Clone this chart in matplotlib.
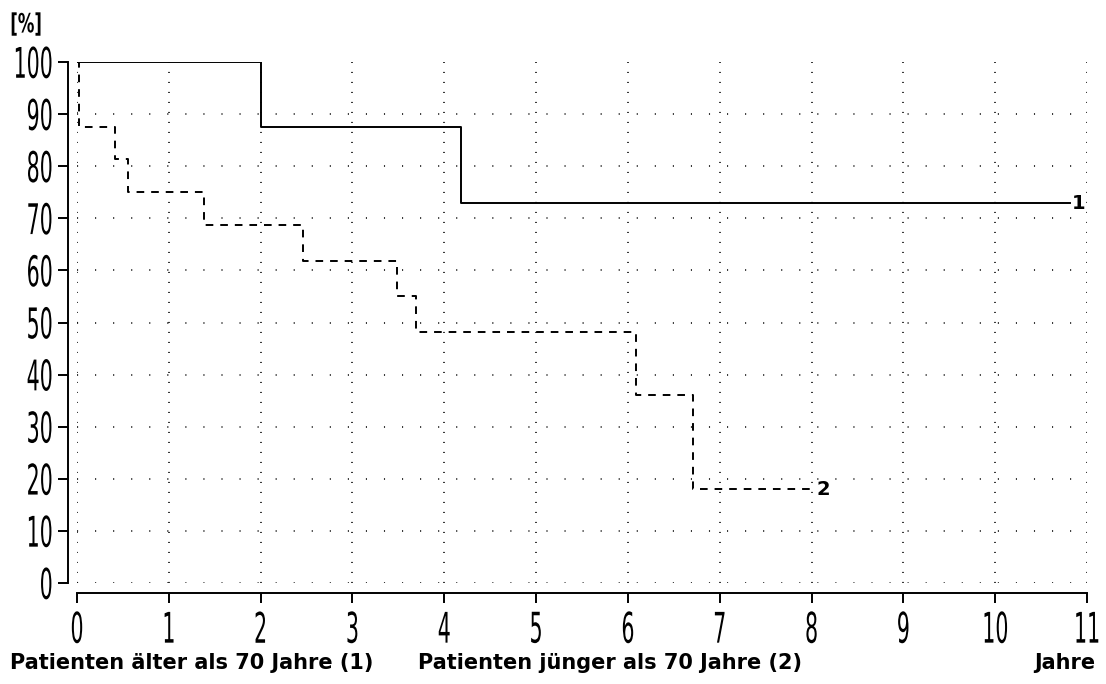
import matplotlib
matplotlib.use("Agg")
import matplotlib.pyplot as plt
from matplotlib.patheffects import AbstractPathEffect
from matplotlib.transforms import Affine2D

# Kaplan-Meier style survival curves
years = list(range(0, 12))
pct_ticks = list(range(0, 101, 10))

t_old = [0, 2.0, 4.18, 10.82]
s_old = [100, 87.5, 72.9, 72.9]

t_young = [0, 0.02, 0.41, 0.55, 1.38, 2.46, 3.48, 3.69, 6.09, 6.71, 8.03]
s_young = [100, 87.5, 81.3, 75.0, 68.8, 61.9, 55.0, 48.1, 36.1, 18.0, 18.0]

label_old = "Patienten älter als 70 Jahre (1)"
label_young = "Patienten jünger als 70 Jahre (2)"


class Narrow(AbstractPathEffect):
    """Stretch glyphs tall and narrow, like the screen font of the original."""

    def __init__(self, sx=0.8, sy=1.55, anchor="center"):
        super().__init__()
        self.sx, self.sy, self.anchor = sx, sy, anchor

    def draw_path(self, renderer, gc, tpath, affine, rgbFace=None):
        ext = tpath.get_extents()
        cx = {"left": ext.x0, "right": ext.x1}.get(self.anchor, 0.5 * (ext.x0 + ext.x1))
        cy = 0.5 * (ext.y0 + ext.y1)
        squeeze = (Affine2D().translate(-cx, -cy)
                   .scale(self.sx, self.sy).translate(cx, cy))
        renderer.draw_path(gc, tpath, squeeze + affine, rgbFace)


plt.rcParams["lines.scale_dashes"] = False

fig = plt.figure(figsize=(11.06, 6.84), dpi=100)
ax = fig.add_axes([77 / 1106, 101 / 684, 1010 / 1106, 521 / 684])
ax.set_xlim(0, 11)
ax.set_ylim(0, 100)

# sparse dotted grid
for y in pct_ticks[:-1]:
    ax.axhline(y, color="black", lw=1.1, linestyle=(0, (0.8, 12.2)), zorder=1)
for x in years:
    ax.axvline(x, color="black", lw=1.1, linestyle=(0, (0.8, 6.4)), zorder=1)

ax.step(t_old, s_old, where="post", color="black", lw=1.4, zorder=3)
ax.step(t_young, s_young, where="post", color="black", lw=1.4,
        linestyle=(0, (5.5, 5.0)), zorder=3)

ax.text(t_old[-1] + 0.01, s_old[-1], "1", ha="left", va="center",
        fontsize=14, fontweight="bold")
ax.text(t_young[-1] + 0.02, s_young[-1], "2", ha="left", va="center",
        fontsize=14, fontweight="bold")

for side in ("top", "right"):
    ax.spines[side].set_visible(False)
ax.spines["left"].set_position(("outward", 6.5))
ax.spines["bottom"].set_position(("outward", 7.2))
for side in ("left", "bottom"):
    ax.spines[side].set_linewidth(1.4)

ax.set_xticks(years)
ax.set_yticks(pct_ticks)
ax.tick_params(direction="out", length=7.2, width=1.4, colors="black",
               labelsize=19)
ax.tick_params(axis="y", pad=3.5)
ax.tick_params(axis="x", pad=10)
for lab in ax.get_yticklabels():
    lab.set_path_effects([Narrow(0.78, 1.6, "right")])
for lab in ax.get_xticklabels():
    lab.set_path_effects([Narrow(0.78, 1.6, "center")])

pct = fig.text(10 / 1106, 0.964, "[%]", ha="left", va="center",
               fontsize=14, fontweight="bold")
pct.set_path_effects([Narrow(0.85, 1.35, "left")])
fig.text(10 / 1106, 21 / 684, label_old, ha="left", va="center",
         fontsize=15, fontweight="bold")
fig.text(418 / 1106, 21 / 684, label_young, ha="left", va="center",
         fontsize=15, fontweight="bold")
fig.text(1095 / 1106, 21 / 684, "Jahre", ha="right", va="center",
         fontsize=15, fontweight="bold")

fig.savefig("out.png", dpi=100)
